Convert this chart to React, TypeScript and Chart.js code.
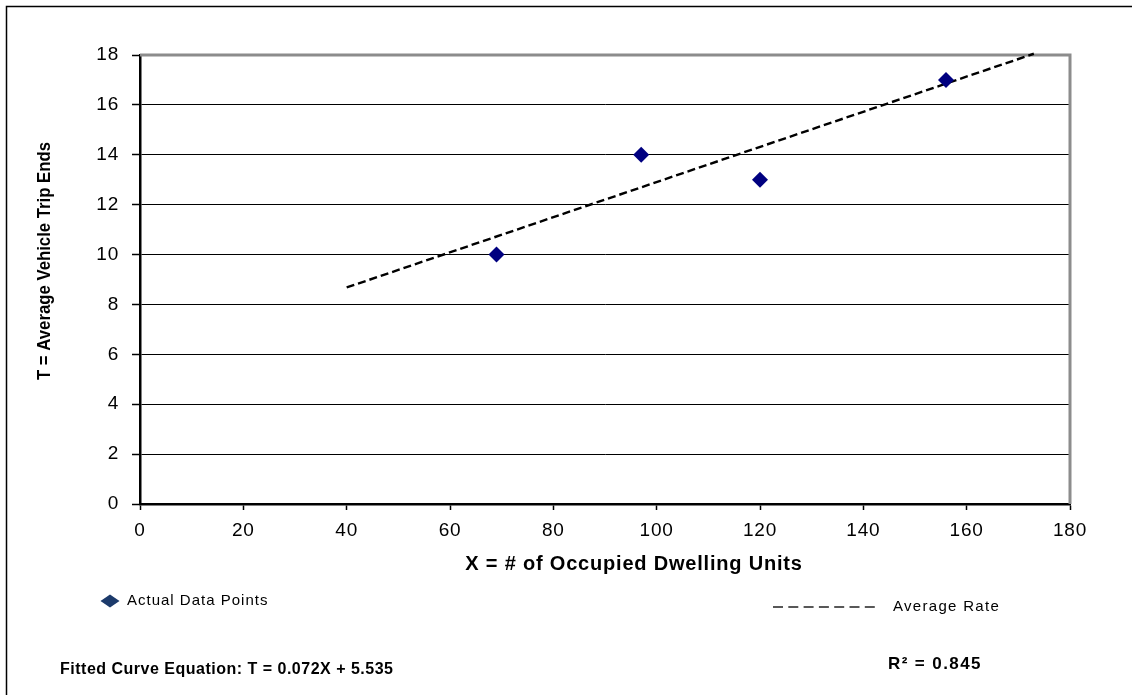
import React, { useEffect, useRef } from "react";
import { Chart, registerables } from "chart.js";

Chart.register(...registerables);

// ---- data ----
const pointX = [69, 97, 120, 156];
const pointY = [10, 14, 13, 17];
const trendX = [40, 173];
const trendY = [8.68, 18.05];

const xMin = 0;
const xMax = 180;
const xStep = 20;
const yMin = 0;
const yMax = 18;
const yStep = 2;

const xTitle = "X = # of Occupied Dwelling Units";
const yTitle = "T = Average Vehicle Trip Ends";
const legendPointsLabel = "Actual Data Points";
const legendTrendLabel = "Average Rate";
const equationText = "Fitted Curve Equation: T = 0.072X + 5.535";
const r2Text = "R\u00B2 = 0.845";

const FONT = '"Liberation Sans", Arial, Helvetica, sans-serif';

const decorPlugin = {
  id: "decor",
  beforeUpdate(chart: any) {
    chart.ctx.letterSpacing = "0.8px";
  },
  beforeDatasetsDraw(chart: any) {
    const { ctx, chartArea: a } = chart;
    ctx.save();
    ctx.strokeStyle = "#8c8c8c";
    ctx.lineWidth = 3;
    ctx.beginPath();
    ctx.moveTo(a.left, a.top);
    ctx.lineTo(a.right, a.top);
    ctx.lineTo(a.right, a.bottom);
    ctx.stroke();
    ctx.restore();
  },
  afterDraw(chart: any) {
    const { ctx } = chart;
    ctx.save();
    // outer frame (top and left visible)
    ctx.strokeStyle = "#000";
    ctx.lineWidth = 1.5;
    ctx.beginPath();
    ctx.moveTo(1140, 6.5);
    ctx.lineTo(6.5, 6.5);
    ctx.lineTo(6.5, 700);
    ctx.stroke();

    ctx.fillStyle = "#000";
    // y axis title
    ctx.save();
    ctx.letterSpacing = "0px";
    ctx.translate(45, 261);
    ctx.rotate(-Math.PI / 2);
    ctx.scale(0.93, 1);
    ctx.font = `bold 18px ${FONT}`;
    ctx.textAlign = "center";
    ctx.textBaseline = "middle";
    ctx.fillText(yTitle, 0, 0);
    ctx.restore();

    // x axis title
    ctx.letterSpacing = "0.8px";
    ctx.font = `bold 20px ${FONT}`;
    ctx.textAlign = "center";
    ctx.textBaseline = "middle";
    ctx.fillText(xTitle, 634, 564);

    // legend: points
    ctx.fillStyle = "#1c3a6b";
    ctx.beginPath();
    ctx.moveTo(100.5, 601);
    ctx.lineTo(110, 594.5);
    ctx.lineTo(119.5, 601);
    ctx.lineTo(110, 607.5);
    ctx.closePath();
    ctx.fill();
    ctx.fillStyle = "#000";
    ctx.letterSpacing = "1px";
    ctx.font = `15px ${FONT}`;
    ctx.textAlign = "left";
    ctx.fillText(legendPointsLabel, 127, 601);

    // legend: trend
    ctx.save();
    ctx.strokeStyle = "#222";
    ctx.lineWidth = 1.5;
    ctx.setLineDash([10, 5.3]);
    ctx.beginPath();
    ctx.moveTo(773, 607);
    ctx.lineTo(876, 607);
    ctx.stroke();
    ctx.restore();
    ctx.letterSpacing = "1.3px";
    ctx.fillText(legendTrendLabel, 893, 607);

    // equation and R2
    ctx.letterSpacing = "0.5px";
    ctx.font = `bold 16px ${FONT}`;
    ctx.fillText(equationText, 60, 670);
    ctx.letterSpacing = "1.4px";
    ctx.font = `bold 17px ${FONT}`;
    ctx.fillText(r2Text, 888, 664);
    ctx.restore();
  },
};

export default function App() {
  const canvasRef = useRef<HTMLCanvasElement | null>(null);

  useEffect(() => {
    const canvas = canvasRef.current;
    if (!canvas) return;
    const scatterData = pointX.map((x, i) => ({ x, y: pointY[i] }));
    const trendData = trendX.map((x, i) => ({ x, y: trendY[i] }));

    const chart = new Chart(canvas, {
      type: "scatter",
      data: {
        datasets: [
          {
            type: "scatter",
            label: legendPointsLabel,
            data: scatterData,
            pointStyle: "rectRot",
            pointRadius: 8,
            pointHoverRadius: 8,
            backgroundColor: "#000080",
            borderColor: "#000080",
            borderWidth: 0,
          } as any,
          {
            type: "line",
            label: legendTrendLabel,
            data: trendData,
            borderColor: "#000",
            borderWidth: 2.4,
            borderDash: [8, 4],
            pointRadius: 0,
            fill: false,
            clip: false,
            showLine: true,
          } as any,
        ],
      },
      options: {
        responsive: false,
        animation: false,
        devicePixelRatio: 1,
        layout: { padding: { left: 0, top: 55, right: 62, bottom: 0 } },
        font: { family: FONT },
        color: "#000",
        plugins: {
          legend: { display: false },
          tooltip: { enabled: false },
          title: { display: false },
        },
        scales: {
          x: {
            type: "linear",
            min: xMin,
            max: xMax,
            ticks: {
              stepSize: xStep,
              color: "#000",
              font: { family: FONT, size: 19 },
              padding: 9,
              maxRotation: 0,
            },
            grid: {
              drawOnChartArea: false,
              drawTicks: true,
              tickLength: 6,
              tickWidth: 1.5,
              tickColor: "#000",
            },
            border: { display: true, color: "#000", width: 2.5 },
            afterFit(scale: any) {
              scale.height = 191;
            },
          },
          y: {
            type: "linear",
            min: yMin,
            max: yMax,
            ticks: {
              stepSize: yStep,
              color: "#000",
              font: { family: FONT, size: 19 },
              padding: 13,
            },
            grid: {
              color: (c: any) => (c.tick && c.tick.value === yMax ? "#8c8c8c" : "#000"),
              lineWidth: 1,
              drawTicks: true,
              tickLength: 8,
              tickWidth: 1.5,
              tickColor: "#000",
            },
            border: { display: true, color: "#000", width: 2.5 },
            afterFit(scale: any) {
              scale.width = 140;
            },
          },
        },
      } as any,
      plugins: [decorPlugin],
    });
    return () => chart.destroy();
  }, []);

  return (
    <div style={{ position: "fixed", left: 0, top: 0, width: 1132, height: 695, background: "#fff" }}>
      <canvas ref={canvasRef} width={1132} height={695} style={{ display: "block", width: 1132, height: 695 }} />
    </div>
  );
}
